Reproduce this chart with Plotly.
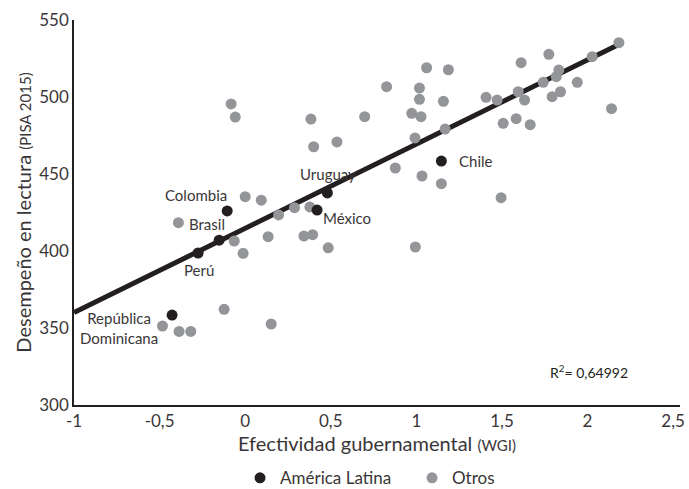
import plotly.graph_objects as go

# --- data ---
latam_names = ["Colombia", "Brasil", "Perú", "Uruguay", "México", "Chile", "República<br>Dominicana"]
latam_x = [-0.105, -0.152, -0.275, 0.48, 0.42, 1.146, -0.427]
latam_y = [426.0, 407.0, 398.7, 437.7, 426.6, 458.4, 358.4]

otros_x = [-0.082, -0.058, -0.39, 0.0, 0.094, 0.195, 0.288, 0.378, 0.384, 0.40,
           0.536, 0.698, -0.064, -0.012, 0.134, 0.343, 0.394, 0.485, -0.123, 0.152,
           -0.483, -0.386, -0.318, 0.826, 1.06, 1.187, 1.018, 1.018, 1.158, 0.973,
           1.027, 1.168, 0.992, 1.407, 1.472, 1.612, 1.774, 1.595, 1.632, 1.741,
           1.817, 1.832, 1.793, 1.842, 1.94, 2.027, 2.183, 2.14, 1.507, 1.583,
           1.665, 0.877, 1.033, 1.146, 1.495, 0.994]
otros_y = [495.5, 487.0, 418.4, 435.3, 433.0, 423.4, 428.1, 428.6, 485.7, 467.7,
           470.8, 487.2, 406.5, 398.5, 409.3, 409.7, 410.6, 402.1, 362.1, 352.6,
           351.3, 347.8, 347.8, 506.7, 519.0, 517.7, 505.8, 498.5, 497.2, 489.4,
           487.2, 479.2, 473.4, 499.8, 498.0, 522.3, 527.7, 503.4, 498.0, 509.5,
           513.2, 517.5, 500.2, 503.4, 509.5, 526.2, 535.3, 492.4, 482.9, 485.9,
           482.0, 453.9, 448.7, 443.7, 434.6, 402.6]

trend_intercept = 414.7
trend_slope = 54.7
trend_x = [-1.0, 2.2]
trend_y = [trend_intercept + trend_slope * v for v in trend_x]

x_ticks = [-1, -0.5, 0, 0.5, 1, 1.5, 2, 2.5]
x_ticktext = ["-1", "-0,5", "0", "0,5", "1", "1,5", "2", "2,5"]
y_ticks = [300, 350, 400, 450, 500, 550]

r2_text = "R<sup>2</sup>= 0,64992"
r2_pos = (2.01, 322)

# label offsets (pixels) for each Latin American country label
label_ax = [-31, -12, 1, 1, 30, 35, -53]
label_ay = [-16, -16, 17, -19, 8, 0, 13]

DARK = "#231f20"
GREY = "#939598"
TEXT = "#3a3637"
FONT = "Lato"

fig = go.Figure()
fig.add_trace(go.Scatter(x=trend_x, y=trend_y, mode="lines",
                         line=dict(color=DARK, width=5), showlegend=False,
                         hoverinfo="skip"))
fig.add_trace(go.Scatter(x=otros_x, y=otros_y, mode="markers", name="Otros",
                         marker=dict(color=GREY, size=11), legendrank=2))
fig.add_trace(go.Scatter(x=latam_x, y=latam_y, mode="markers", name="América Latina",
                         marker=dict(color=DARK, size=11), legendrank=1))

for name, x, y, ax, ay in zip(latam_names, latam_x, latam_y, label_ax, label_ay):
    fig.add_annotation(x=x, y=y, text=name, showarrow=False, xshift=ax, yshift=-ay,
                       font=dict(family=FONT, size=15, color=TEXT), align="center")

fig.add_annotation(x=r2_pos[0], y=r2_pos[1], text=r2_text, showarrow=False,
                   font=dict(family=FONT, size=14, color=DARK))

fig.update_layout(
    width=689, height=489,
    margin=dict(l=74, r=9, t=20, b=84),
    paper_bgcolor="white", plot_bgcolor="white",
    font=dict(family=FONT, color=TEXT, size=16),
    separators=", ",
    legend=dict(orientation="h", x=0.274, xanchor="left",
                yref="container", y=0.022, yanchor="middle",
                font=dict(size=17), itemsizing="trace", traceorder="normal",
                entrywidth=127),
    hovermode=False,
)
fig.update_xaxes(range=[-1, 2.54], tickvals=x_ticks, ticktext=x_ticktext,
                 showgrid=False, zeroline=False, showline=True, linecolor=DARK,
                 linewidth=1.5, ticks="", tickfont=dict(size=17), automargin=False,
                 title=dict(text="Efectividad gubernamental <span style='font-size:15px'>(WGI)</span>",
                            font=dict(size=20), standoff=5))
fig.update_yaxes(range=[300, 550], tickvals=y_ticks,
                 showgrid=False, zeroline=False, showline=True, linecolor=DARK,
                 linewidth=1.5, ticks="", tickfont=dict(size=17), automargin=False,
                 title=dict(text="Desempeño en lectura <span style='font-size:15px'>(PISA 2015)</span>",
                            font=dict(size=20), standoff=2))

fig.write_html("out.html")
